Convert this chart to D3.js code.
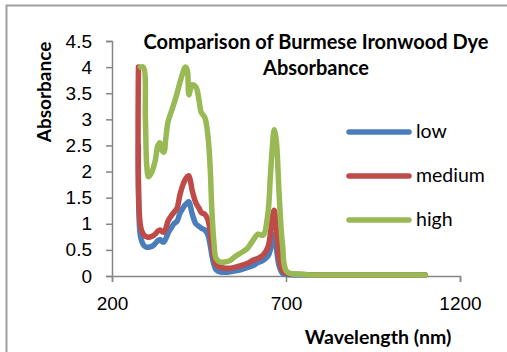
<!DOCTYPE html>
<html>
<head>
<meta charset="utf-8">
<script src="https://cdn.jsdelivr.net/npm/d3@7"></script>
<style>
  body { margin: 0; background: #fff; }
  svg { display: block; font-family: Lato, "Open Sans", sans-serif; }
</style>
</head>
<body>
<div id="chart"></div>
<script>
// wavelength (nm) shared by the three series
const wavelengths = [276, 282, 290, 296, 300, 305, 315, 324, 332, 338, 344, 349, 355, 361, 370, 378, 387, 395, 404, 410,
  416, 421, 430, 441, 450, 456, 467, 476, 482, 487, 493, 499, 510, 525, 540, 555, 570, 588, 605, 620,
  634, 648, 655, 660, 666, 672, 680, 690, 703, 750, 850, 950, 1050, 1100];

const lowValues = [2.5, 0.75, 0.6, 0.56, 0.55, 0.55, 0.57, 0.62, 0.68, 0.7, 0.66, 0.65, 0.72, 0.82, 0.92, 1.0, 1.05, 1.2, 1.3, 1.36,
  1.4, 1.42, 1.2, 1.0, 0.95, 0.92, 0.88, 0.78, 0.6, 0.4, 0.22, 0.12, 0.08, 0.07, 0.08, 0.1, 0.12, 0.16, 0.2, 0.26,
  0.3, 0.38, 0.5, 0.7, 0.8, 0.55, 0.2, 0.05, 0.03, 0.02, 0.02, 0.02, 0.02, 0.02];

const mediumValues = [4.0, 0.95, 0.8, 0.76, 0.75, 0.74, 0.76, 0.8, 0.86, 0.88, 0.85, 0.84, 0.92, 1.05, 1.15, 1.22, 1.3, 1.55, 1.75, 1.84,
  1.9, 1.92, 1.65, 1.4, 1.3, 1.22, 1.18, 1.07, 0.85, 0.6, 0.35, 0.22, 0.17, 0.15, 0.15, 0.17, 0.2, 0.24, 0.3, 0.34,
  0.4, 0.55, 0.8, 1.1, 1.26, 0.9, 0.35, 0.1, 0.05, 0.03, 0.02, 0.02, 0.02, 0.02];

const highValues = [null, 4.0, 4.0, 3.0, 2.1, 1.9, 2.0, 2.2, 2.5, 2.55, 2.4, 2.37, 2.66, 2.95, 3.14, 3.3, 3.5, 3.7, 3.9, 4.0,
  3.95, 3.47, 3.66, 3.62, 3.37, 3.14, 3.03, 2.66, 2.09, 1.26, 0.63, 0.34, 0.27, 0.27, 0.3, 0.38, 0.44, 0.52, 0.68, 0.8,
  0.78, 1.2, 1.9, 2.4, 2.8, 2.6, 1.6, 0.6, 0.08, 0.03, 0.02, 0.02, 0.02, 0.02];

const seriesNames = ["low", "medium", "high"];
const seriesColors = ["#4a7ebb", "#be4b48", "#98b954"];
const xTicks = [200, 700, 1200];
const yTicks = [0, 0.5, 1, 1.5, 2, 2.5, 3, 3.5, 4, 4.5];

const width = 507, height = 352;
const margin = { top: 41, right: 47, bottom: 76, left: 112 };
const plotW = width - margin.left - margin.right;
const plotH = height - margin.top - margin.bottom;

const svg = d3.select("#chart").append("svg")
  .attr("width", width)
  .attr("height", height);

// chart area border
svg.append("rect")
  .attr("x", 6.5).attr("y", 5.5)
  .attr("width", 520).attr("height", 370)
  .attr("fill", "none")
  .attr("stroke", "#a0a0a0")
  .attr("stroke-width", 2);

const g = svg.append("g")
  .attr("transform", `translate(${margin.left},${margin.top})`);

const x = d3.scaleLinear().domain([200, 1200]).range([0, plotW]);
const y = d3.scaleLinear().domain([0, 4.5]).range([plotH, 0]);

// axes
const yAxis = g.append("g")
  .call(d3.axisLeft(y).tickValues(yTicks).tickSize(6).tickPadding(14).tickFormat(d3.format("")));
const xAxis = g.append("g")
  .attr("transform", `translate(0,${plotH})`)
  .call(d3.axisBottom(x).tickValues(xTicks).tickSize(6).tickPadding(15).tickFormat(d3.format("d")));

[xAxis, yAxis].forEach(a => {
  a.select(".domain").attr("stroke", "#868686").attr("stroke-width", 1.5);
  a.selectAll(".tick line").attr("stroke", "#868686").attr("stroke-width", 1.5);
  a.selectAll(".tick text").attr("fill", "#000").style("font-size", "19px");
});

// lines
const valueSets = [lowValues, mediumValues, highValues];
const line = d3.line()
  .defined(d => d[1] !== null)
  .x(d => x(d[0]))
  .y(d => y(d[1]))
  .curve(d3.curveCatmullRom);

valueSets.forEach((vals, i) => {
  g.append("path")
    .datum(wavelengths.map((w, j) => [w, vals[j]]))
    .attr("fill", "none")
    .attr("stroke", seriesColors[i])
    .attr("stroke-width", 5.5)
    .attr("stroke-linejoin", "round")
    .attr("stroke-linecap", "round")
    .attr("d", line);
});

// title
const title = svg.append("text")
  .attr("text-anchor", "middle")
  .style("font-size", "20px")
  .style("font-weight", "bold");
title.append("tspan").attr("x", 316).attr("y", 49).text("Comparison of Burmese Ironwood Dye");
title.append("tspan").attr("x", 316).attr("y", 75).text("Absorbance");

// axis titles
svg.append("text")
  .attr("transform", "translate(51,92) rotate(-90)")
  .attr("text-anchor", "middle")
  .style("font-size", "19px")
  .style("font-weight", "bold")
  .text("Absorbance");

svg.append("text")
  .attr("x", 378).attr("y", 344)
  .attr("text-anchor", "middle")
  .style("font-size", "19.5px")
  .style("font-weight", "bold")
  .text("Wavelength (nm)");

// legend
seriesNames.forEach((name, i) => {
  const ly = 132 + i * 44;
  svg.append("line")
    .attr("x1", 349).attr("x2", 409)
    .attr("y1", ly).attr("y2", ly)
    .attr("stroke", seriesColors[i])
    .attr("stroke-width", 5.5)
    .attr("stroke-linecap", "round");
  svg.append("text")
    .attr("x", 416).attr("y", ly + 6)
    .style("font-size", "19.5px")
    .text(name);
});
</script>
</body>
</html>
